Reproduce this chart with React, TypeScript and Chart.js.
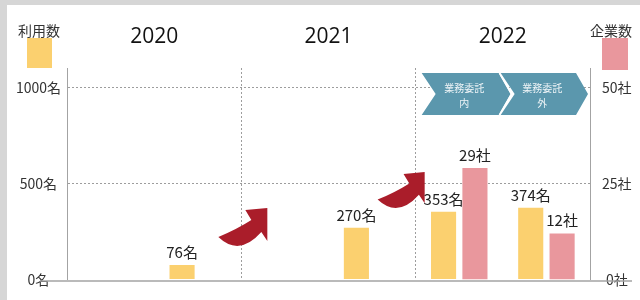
import React, { useEffect, useRef } from "react";
import { Chart, registerables } from "chart.js";

Chart.register(...registerables);

// ---- data ----
const slots = ["2020", "2020", "2021", "2021", "2022 業務委託内", "2022 業務委託外"];
const userCounts = [null, 76, null, 270, 353, 374];
const companyCounts = [null, null, null, null, 29, 12];
const years = ["2020", "2021", "2022"];
const phaseTop = ["業務委託", "業務委託"];
const phaseBottom = ["内", "外"];
const leftTicks = [0, 500, 1000];
const rightTicks = [0, 25, 50];
const seriesNames = ["利用数", "企業数"];
const units = ["名", "社"];

const YELLOW = "#FBD06F";
const PINK = "#E9979D";
const GRID = "#9d9d9d";
const AXIS = "#a3a3a3";
const BLUE = "#5b97ad";
const RED = "#aa1d2a";
const JP = '"Noto Sans CJK JP", "Noto Sans", sans-serif';

function drawArrow(ctx: CanvasRenderingContext2D, x0: number, y0: number, w: number, h: number) {
  const px = (u: number) => x0 + (u * w) / 50;
  const py = (v: number) => y0 + (v * h) / 40;
  ctx.save();
  ctx.fillStyle = RED;
  ctx.beginPath();
  ctx.moveTo(px(1), py(29));
  ctx.quadraticCurveTo(px(20), py(21), px(34), py(12));
  ctx.lineTo(px(28), py(2));
  ctx.lineTo(px(50), py(0));
  ctx.lineTo(px(50), py(33));
  ctx.lineTo(px(44), py(24));
  ctx.quadraticCurveTo(px(22), py(49), px(1), py(29));
  ctx.closePath();
  ctx.fill();
  ctx.restore();
}

const deco = {
  id: "deco",
  afterDatasetsDraw(chart: any) {
    const { ctx, chartArea: ca, scales } = chart;
    const xs = scales.x;
    const step = xs.getPixelForTick(1) - xs.getPixelForTick(0);
    const edge = (i: number) => xs.getPixelForTick(0) - step / 2 + i * step;

    // chevrons for 2022 phases
    const B = edge(4);
    const top = ca.top + 5;
    const bot = top + 42;
    const mid = (top + bot) / 2;
    const chevs = [
      { x0: B + 6, tip: B + 95 },
      { x0: B + 85, tip: ca.right - 2 },
    ];
    chevs.forEach((c, i) => {
      const depth = 12;
      const notch = 14;
      ctx.save();
      ctx.fillStyle = BLUE;
      ctx.beginPath();
      ctx.moveTo(c.x0, top);
      ctx.lineTo(c.tip - depth, top);
      ctx.lineTo(c.tip, mid);
      ctx.lineTo(c.tip - depth, bot);
      ctx.lineTo(c.x0, bot);
      ctx.lineTo(c.x0 + notch, mid);
      ctx.closePath();
      ctx.fill();
      if (i === 0) {
        ctx.strokeStyle = "#ffffff";
        ctx.lineWidth = 2;
        ctx.beginPath();
        ctx.moveTo(c.tip - depth + 1, top);
        ctx.lineTo(c.tip + 1, mid);
        ctx.lineTo(c.tip - depth + 1, bot);
        ctx.stroke();
      }
      const cx = (c.x0 + notch + c.tip - depth) / 2 - 3;
      ctx.fillStyle = "#eef4f7";
      ctx.font = `10px ${JP}`;
      ctx.textAlign = "center";
      ctx.textBaseline = "alphabetic";
      ctx.fillText(phaseTop[i], cx, top + 19);
      ctx.fillText(phaseBottom[i], cx, top + 34);
      ctx.restore();
    });

    // arrows
    drawArrow(ctx, edge(2) - 24, ca.top + 140, 50, 40);
    drawArrow(ctx, edge(4) - 39, ca.top + 104, 48, 38);

    // value labels
    ctx.save();
    ctx.font = `15px ${JP}`;
    ctx.fillStyle = "#222";
    ctx.textAlign = "center";
    ctx.textBaseline = "alphabetic";
    chart.data.datasets.forEach((ds: any, di: number) => {
      const meta = chart.getDatasetMeta(di);
      ds.data.forEach((v: any, j: number) => {
        if (v === null || v === undefined) return;
        const el = meta.data[j];
        ctx.fillText(`${v}${units[di]}`, el.x, el.y - 7);
      });
    });
    ctx.restore();
  },
  afterDraw(chart: any) {
    const { ctx, chartArea: ca, scales } = chart;
    const xs = scales.x;
    const step = xs.getPixelForTick(1) - xs.getPixelForTick(0);
    const edge = (i: number) => xs.getPixelForTick(0) - step / 2 + i * step;

    ctx.save();
    // base line
    ctx.strokeStyle = AXIS;
    ctx.lineWidth = 1.5;
    ctx.beginPath();
    ctx.moveTo(40, ca.bottom + 1.5);
    ctx.lineTo(632, ca.bottom + 1.5);
    ctx.stroke();

    // year headers
    ctx.fillStyle = "#111";
    ctx.font = `21px "Open Sans", "DejaVu Sans", sans-serif`;
    ctx.textAlign = "center";
    ctx.textBaseline = "alphabetic";
    years.forEach((y, i) => {
      ctx.fillText(y, (edge(2 * i) + edge(2 * i + 2)) / 2, 43);
    });

    // series headers with swatches
    ctx.font = `14px ${JP}`;
    ctx.fillStyle = "#333";
    ctx.fillText(seriesNames[0], 39, 36);
    ctx.fillText(seriesNames[1], 611, 36);
    ctx.fillStyle = YELLOW;
    ctx.fillRect(27, 38, 25, 30);
    ctx.fillStyle = PINK;
    ctx.fillRect(602, 38, 26, 32);
    ctx.restore();
  },
};

export default function App() {
  const ref = useRef<HTMLCanvasElement | null>(null);
  useEffect(() => {
    if (!ref.current) return;
    const chart = new Chart(ref.current, {
      type: "bar",
      data: {
        labels: slots,
        datasets: [
          {
            label: seriesNames[0],
            data: userCounts as any,
            backgroundColor: YELLOW,
            yAxisID: "y",
            barPercentage: 0.8,
            categoryPercentage: 0.72,
          },
          {
            label: seriesNames[1],
            data: companyCounts as any,
            backgroundColor: PINK,
            yAxisID: "y1",
            barPercentage: 0.8,
            categoryPercentage: 0.72,
          },
        ],
      },
      options: {
        responsive: false,
        animation: false,
        devicePixelRatio: 1,
        layout: { padding: { top: 68, bottom: 5, left: 0, right: 0 } },
        plugins: { legend: { display: false }, tooltip: { enabled: false } },
        scales: {
          x: {
            display: true,
            offset: true,
            ticks: { display: false },
            grid: {
              offset: true,
              drawTicks: false,
              color: (c: any) => (c.index === 2 || c.index === 4 ? GRID : "transparent"),
              lineWidth: 1,
            },
            border: { display: false, dash: [2, 2] },
            afterFit: (s: any) => {
              s.height = 0;
            },
          },
          y: {
            position: "left",
            min: 0,
            max: 1100,
            afterBuildTicks: (s: any) => {
              s.ticks = leftTicks.map((v) => ({ value: v }));
            },
            ticks: {
              padding: 6,
              crossAlign: "center",
              color: "#333",
              font: { family: JP, size: 14 },
              callback: (v: any) => `${v}${units[0]}`,
            },
            grid: {
              drawTicks: false,
              color: (c: any) => (c.tick && c.tick.value === 0 ? "transparent" : GRID),
            },
            border: { display: true, color: AXIS, dash: [2, 2] },
            afterFit: (s: any) => {
              s.width = 67;
            },
          },
          y1: {
            position: "right",
            min: 0,
            max: 55,
            afterBuildTicks: (s: any) => {
              s.ticks = rightTicks.map((v) => ({ value: v }));
            },
            ticks: {
              padding: 12,
              crossAlign: "center",
              color: "#333",
              font: { family: JP, size: 14 },
              callback: (v: any) => `${v}${units[1]}`,
            },
            grid: { display: false, drawTicks: false },
            border: { display: true, color: AXIS },
            afterFit: (s: any) => {
              s.width = 50;
            },
          },
        },
      } as any,
      plugins: [deco],
    });
    return () => chart.destroy();
  }, []);

  return (
    <div
      style={{
        position: "fixed",
        left: 0,
        top: 0,
        width: 640,
        height: 300,
        background: "#d6d6d6",
        overflow: "hidden",
      }}
    >
      <div
        style={{
          position: "absolute",
          left: 7,
          top: 5,
          right: 0,
          bottom: 0,
          background: "#ffffff",
        }}
      />
      <canvas
        ref={ref}
        width={640}
        height={300}
        style={{ position: "absolute", left: 0, top: 0, width: 640, height: 300 }}
      />
    </div>
  );
}
